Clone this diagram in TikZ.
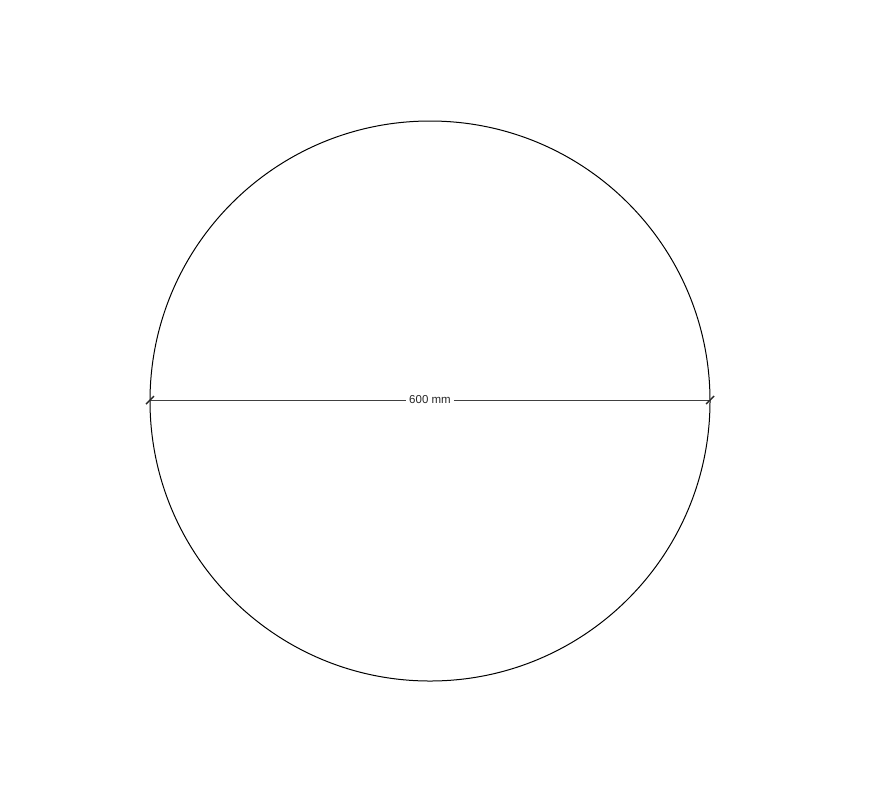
\documentclass[tikz,border=0pt]{standalone}
\usepackage{fontspec}
\setmainfont{Liberation Sans}
\begin{document}
\begin{tikzpicture}[x=1pt,y=-1pt,
  outline/.style={draw=black,line width=1pt},
  dimline/.style={draw=black!75,line width=0.6pt},
  tick/.style={draw=black!85,line width=1.4pt},
  dimlabel/.style={fill=white,inner sep=3pt,font=\fontsize{11.5pt}{12pt}\selectfont,text=black!85}]
\useasboundingbox (0,0) rectangle (885,807);
\node[circle,outline,minimum size=560pt,inner sep=0pt] (c) at (430,401) {};
\coordinate (l) at (150,400);
\coordinate (r) at (710,400);
\node[dimlabel] (lab) at (430,400) {600 mm};
\draw[dimline] (l) -- (lab.west);
\draw[dimline] (lab.east) -- (r);
\draw[tick] ([shift={(-4,4)}]l) -- ([shift={(4,-4)}]l);
\draw[tick] ([shift={(-4,4)}]r) -- ([shift={(4,-4)}]r);
\end{tikzpicture}
\end{document}
